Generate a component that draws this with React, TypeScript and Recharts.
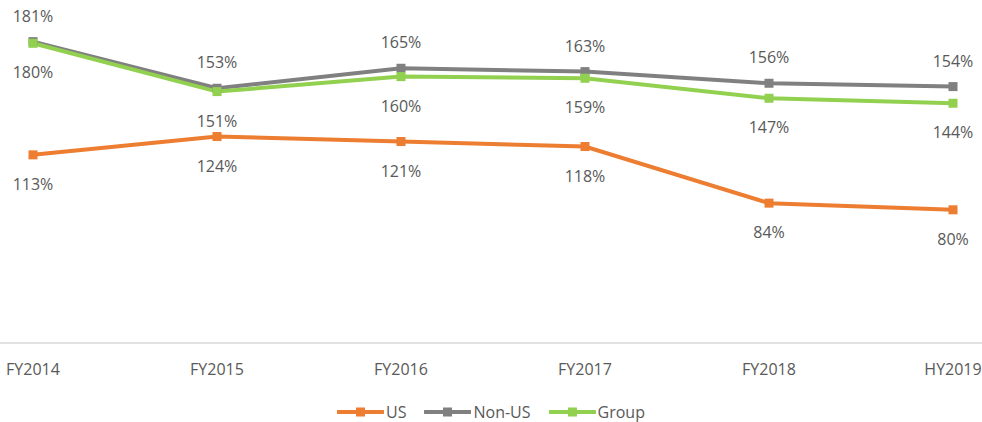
import { LineChart, Line, XAxis, YAxis, Legend, LabelList } from 'recharts';

const periods = ['FY2014', 'FY2015', 'FY2016', 'FY2017', 'FY2018', 'HY2019'];
const usValues = [113, 124, 121, 118, 84, 80];
const nonUsValues = [181, 153, 165, 163, 156, 154];
const groupValues = [180, 151, 160, 159, 147, 144];

const seriesList = [
  { key: 'us', name: 'US', color: '#ED7D31', labelPos: 'below' },
  { key: 'nonUs', name: 'Non-US', color: '#808080', labelPos: 'above' },
  { key: 'group', name: 'Group', color: '#92D050', labelPos: 'below' },
];

const data = periods.map((p, i) => ({
  name: p,
  us: usValues[i],
  nonUs: nonUsValues[i],
  group: groupValues[i],
}));

const FONT = '"Open Sans", sans-serif';
const TEXT = '#595959';

const SquareDot = (color: string) => (props: any) => {
  const { cx, cy, index } = props;
  if (cx == null || cy == null) return null;
  return <rect key={index} x={cx - 4.5} y={cy - 4.5} width={9} height={9} fill={color} />;
};

const makeLabel = (pos: string) => (props: any) => {
  const { x, y, value, index } = props;
  const dy = pos === 'above' ? -26 : 29;
  return (
    <text
      key={index}
      x={x}
      y={y + dy}
      textAnchor="middle"
      dominantBaseline="central"
      fill={TEXT}
      fontSize={16}
      fontFamily={FONT}
    >
      {value}%
    </text>
  );
};

const XTick = (props: any) => {
  const { x, y, payload } = props;
  return (
    <text x={x} y={y + 18} textAnchor="middle" dominantBaseline="central" fill={TEXT} fontSize={16} fontFamily={FONT}>
      {payload.value}
    </text>
  );
};

const LegendContent = () => (
  <div style={{ display: 'flex', justifyContent: 'center', gap: 18, marginTop: 13, fontFamily: FONT, fontSize: 16, color: TEXT }}>
    {seriesList.map((s) => (
      <div key={s.key} style={{ display: 'flex', alignItems: 'center' }}>
        <svg width={47} height={12}>
          <line x1={1} y1={6} x2={46} y2={6} stroke={s.color} strokeWidth={4} strokeLinecap="round" />
          <rect x={19} y={1.5} width={9} height={9} fill={s.color} />
        </svg>
        <span style={{ marginLeft: 2 }}>{s.name}</span>
      </div>
    ))}
  </div>
);

export default function App() {
  return (
    <div style={{ position: 'absolute', left: 0, top: 0, width: 982, height: 422, background: '#fff', overflow: 'hidden' }}>
      <LineChart width={982} height={422} data={data} margin={{ top: 10, right: 0, left: 0, bottom: 0 }}>
        <XAxis
          dataKey="name"
          padding={{ left: 33, right: 29 }}
          axisLine={{ stroke: '#D9D9D9', strokeWidth: 1.5 }}
          tickLine={false}
          tick={<XTick />}
          height={45}
          interval={0}
        />
        <YAxis hide domain={[0, 200]} />
        <Legend verticalAlign="bottom" height={34} content={<LegendContent />} />
        {seriesList.map((s) => (
          <Line
            key={s.key}
            dataKey={s.key}
            name={s.name}
            stroke={s.color}
            strokeWidth={4}
            dot={SquareDot(s.color)}
            activeDot={false}
            isAnimationActive={false}
          >
            <LabelList dataKey={s.key} content={makeLabel(s.labelPos)} />
          </Line>
        ))}
      </LineChart>
    </div>
  );
}
